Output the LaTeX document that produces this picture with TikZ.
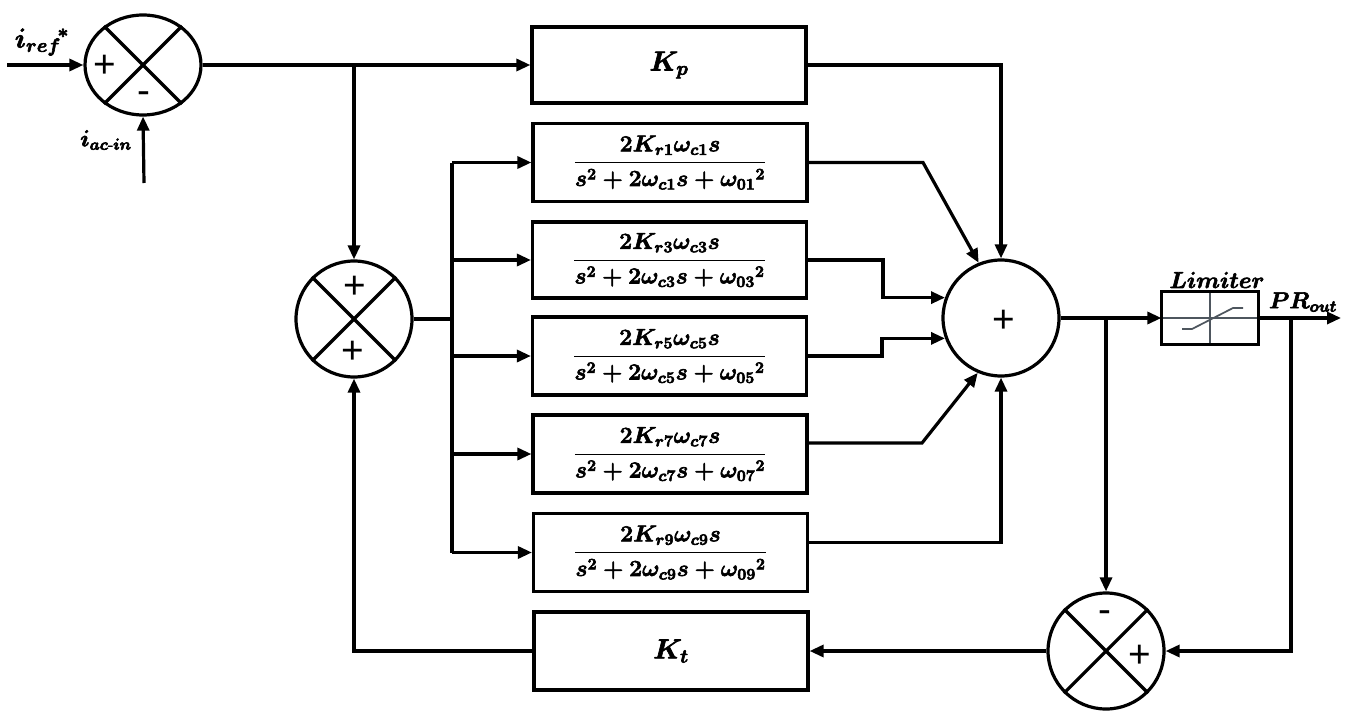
\documentclass[tikz,border=0pt]{standalone}
\usepackage{amsmath}
\usepackage{fontspec}
\newfontfamily\signfont{Liberation Sans}
\usetikzlibrary{arrows.meta,shapes.geometric,calc}
\definecolor{limgray}{RGB}{78,86,94}
\newcommand\fbon{\special{pdf:literal direct 2 Tr 0.45 w}}
\newcommand\fboff{\special{pdf:literal direct 0 Tr}}
\newcommand\prfrac[1]{\fbon$\dfrac{2K_{r#1}\omega_{c#1}s}{s^2+2\omega_{c#1}s+{\omega_{0#1}}^2}$\fboff}
\begin{document}
\begin{tikzpicture}[x=0.75pt,y=-0.75pt,
  every path/.style={line width=2.4pt},
  >={Triangle[length=10.5pt,width=9pt]},
  blk/.style={draw,rectangle,inner sep=0pt,minimum width=205.5pt,minimum height=58.5pt,
    font=\fontsize{17.28}{20}\selectfont\boldmath},
  kblk/.style={blk,font=\fontsize{20.74}{24}\selectfont\boldmath},
  sumc/.style={draw,circle,inner sep=0pt,minimum size=87pt},
  sgn/.style={font=\signfont\fontsize{29}{31}\selectfont,inner sep=0pt},
  lbl/.style={font=\fontsize{17.28}{20}\selectfont\boldmath,inner sep=0pt},
  grayline/.style={draw=limgray,line width=1.3pt}]
\useasboundingbox (0,0) rectangle (1351,713);

% summing junctions
\node[draw,ellipse,inner sep=0pt,minimum width=87pt,minimum height=75pt] (s1) at (143,65) {};
\node[sumc] (s2) at (354,319) {};
\node[sumc] (s3) at (1001,318) {};
\node[sumc] (s4) at (1106,651) {};
\foreach \s in {s1,s2,s4}{
  \draw (\s.45) -- (\s.225);
  \draw (\s.135) -- (\s.315);
}
\node[sgn] (p1) at (105,66) {+};
\node[sgn] (m1) at (144,98) {-};
\node[sgn] (p2a) at (355,287) {+};
\node[sgn] (p2b) at (353,352) {+};
\node[sgn] (p3) at (1004,321) {+};
\node[sgn] (m4) at (1105,617) {-};
\node[sgn] (p4) at (1140,656) {+};

% blocks
\node[kblk,minimum height=57pt] (kp) at (669,65) {\fbon$K_p$\fboff};
\node[blk] (r1) at (670,162.5) {\prfrac{1}};
\node[blk,minimum height=57pt] (r3) at (669.5,260) {\prfrac{3}};
\node[blk] (r5) at (669.5,356) {\prfrac{5}};
\node[blk] (r7) at (670,454) {\prfrac{7}};
\node[blk] (r9) at (670.5,552.5) {\prfrac{9}};
\node[kblk] (kt) at (671,651) {\fbon$K_t$\fboff};

% limiter
\node[rectangle,inner sep=0pt,minimum width=70.5pt,minimum height=37.5pt] (lim) at (1210,318) {};
\draw[grayline] (lim.north) -- (lim.south);
\draw[grayline] (lim.west) -- (lim.east);
\draw[grayline] ($(lim.center)+(-28,11)$) -- ++(10,0) -- ++(41,-21) -- ++(10,0);
\draw (lim.north west) rectangle (lim.south east);

% labels
\node[lbl,font=\fontsize{20.74}{24}\selectfont\boldmath] (lref) at (42,42) {\fbon$i_{ref}{}^{\!*}$\fboff};
\node[lbl] (lac) at (106,140) {\fbon$i_{ac\text{-}in}$\fboff};
\node[lbl] (llim) at (1217,280) {\fbon$Limiter$\fboff};
\node[lbl] (lpr) at (1303,302) {\fbon$PR_{out}$\fboff};

% coordinates
\coordinate (in) at (7,65);
\coordinate (iac) at (144,183);
\coordinate (j1) at (354,65);
\coordinate (b1) at (452,162.5);
\coordinate (b9) at (452,552.5);
\coordinate (c1) at (923,162.5);
\coordinate (c3) at (883,260);
\coordinate (c5) at (882,356);
\coordinate (c7) at (922,443);
\coordinate (b3) at (1106,318);
\coordinate (b2) at (1291,318);
\coordinate (out) at (1341,318);

% connectors
\draw[->] (in) -- (s1.west);
\draw[->] (iac) -- (s1.south);
\draw[->] (s1.east) -- (kp.west);
\draw[->] (j1) -- (s2.north);
\draw (s2.east) -- (s2.east -| b1);
\draw (b1) -- (b9);
\draw[->] (b1) -- (r1.west);
\draw[->] (r3.west -| b1) -- (r3.west);
\draw[->] (r5.west -| b1) -- (r5.west);
\draw[->] (r7.west -| b1) -- (r7.west);
\draw[->] (b9) -- (r9.west);

\draw[->] (kp.east) -| (s3.north);
\draw[->] (r1.east) -- (c1) -- (s3.112);
\draw[->] (r3.east) -- (c3) |- (s3.160);
\draw[->] (r5.east) -- (c5) |- (s3.200);
\draw[->] (r7.east |- c7) -- (c7) -- (s3.247);
\draw[->] ($(r9.east)+(0,-10)$) -| (s3.south);

\draw[->] (s3.east) -- (lim.west);
\draw[->] (b3) -- (s4.north);
\draw[->] (lim.east) -- (out);
\draw[->] (b2) |- (s4.east);
\draw[->] (s4.west) -- (kt.east);
\draw[->] (kt.west) -| (s2.south);
\end{tikzpicture}
\end{document}
